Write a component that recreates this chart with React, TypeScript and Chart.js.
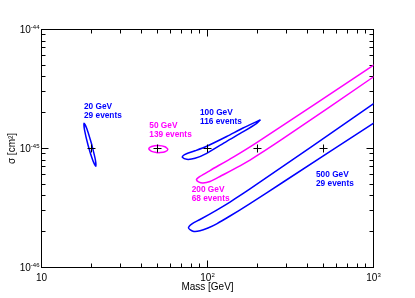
import React, { useEffect, useRef } from 'react';
import { Chart, registerables } from 'chart.js';

Chart.register(...registerables);

// ---- axis ticks ----
const X_TICKS = [10, 20, 30, 40, 50, 60, 70, 80, 90, 100, 200, 300, 400, 500, 600, 700, 800, 900, 1000];
const X_MAJOR = [10, 100, 1000];
const X_LABEL_BASE = ['10', '10', '10'];
const X_LABEL_EXP = ['', '2', '3'];
const Y_TICKS = [
  1e-46, 2e-46, 3e-46, 4e-46, 5e-46, 6e-46, 7e-46, 8e-46, 9e-46,
  1e-45, 2e-45, 3e-45, 4e-45, 5e-45, 6e-45, 7e-45, 8e-45, 9e-45, 1e-44,
];
const Y_MAJOR = [1e-46, 1e-45, 1e-44];
const Y_LABEL_BASE = ['10', '10', '10'];
const Y_LABEL_EXP = ['-46', '-45', '-44'];

// ---- benchmark points ----
const CROSS_MASS = [20, 50, 100, 200, 500];
const CROSS_SIGMA = [1e-45, 1e-45, 1e-45, 1e-45, 1e-45];

// ---- contours (mass GeV, sigma cm^2) ----
const C20_MASS = [20.06, 18.81, 18.05, 18.16, 19.08, 20.36, 21.23, 21.10, 20.06];
const C20_SIGMA = [1.085e-45, 1.451e-45, 1.628e-45, 1.431e-45, 1.064e-45, 7.95e-46, 7.09e-46, 8.07e-46, 1.085e-45];

const C50_MASS = [50.53, 46.05, 44.30, 46.05, 50.53, 55.46, 57.66, 55.46, 50.53];
const C50_SIGMA = [9.20e-46, 9.45e-46, 9.96e-46, 1.040e-45, 1.061e-45, 1.034e-45, 9.81e-46, 9.40e-46, 9.20e-46];

const C100_MASS = [208.6, 163.6, 130.5, 98.89, 84.09, 74.73, 71.49, 70.50, 74.94, 84.09, 98.89, 130.5, 164.3, 197.9, 208.6];
const C100_SIGMA = [1.743e-45, 1.487e-45, 1.261e-45, 1.044e-45, 9.56e-46, 9.03e-46, 8.73e-46, 8.43e-46, 8.11e-46, 8.27e-46, 9.11e-46, 1.149e-45, 1.384e-45, 1.628e-45, 1.743e-45];

const C200_MASS = [1347.5, 1347.5, 997.2, 197.9, 143.0, 103.5, 90.12, 85.86, 88.27, 93.95, 103.5, 118.9, 180.3, 286.2, 997.2, 1347.5];
const C200_SIGMA = [5.332e-45, 6.571e-45, 4.983e-45, 1.123e-45, 8.48e-46, 6.53e-46, 5.82e-46, 5.49e-46, 5.25e-46, 5.13e-46, 5.28e-46, 5.82e-46, 8.00e-46, 1.214e-45, 3.989e-45, 5.332e-45];

const C500_MASS = [1347.5, 1347.5, 997.2, 180.3, 136.6, 113.6, 90.12, 80.65, 76.83, 81.78, 90.12, 100.7, 113.6, 136.6, 180.3, 286.2, 997.2, 1347.5];
const C500_SIGMA = [2.127e-45, 3.162e-45, 2.366e-45, 4.57e-46, 3.55e-46, 3.04e-46, 2.53e-46, 2.329e-46, 2.148e-46, 2.018e-46, 2.034e-46, 2.148e-46, 2.329e-46, 2.708e-46, 3.449e-46, 5.23e-46, 1.628e-45, 2.127e-45];

// ---- text annotations ----
const LABEL_LINES = [
  ['20 GeV', '29 events'],
  ['50 GeV', '139 events'],
  ['100 GeV', '116 events'],
  ['200 GeV', '68 events'],
  ['500 GeV', '29 events'],
];

const BLUE = '#0000ff';
const MAGENTA = '#ff00ff';
const FONT = '"Liberation Sans", Arial, Helvetica, sans-serif';

// annotation anchors (data coordinates) and colours
const LABEL_ANCHORS = [
  { mass: 18.03, sigma: 2.127e-45, color: BLUE },
  { mass: 44.61, sigma: 1.501e-45, color: MAGENTA },
  { mass: 90.1, sigma: 1.912e-45, color: BLUE },
  { mass: 80.3, sigma: 4.31e-46, color: MAGENTA },
  { mass: 450.4, sigma: 5.79e-46, color: BLUE },
];

const toPoints = (xs: number[], ys: number[]) => xs.map((x, i) => ({ x, y: ys[i] }));

const textPlugin = {
  id: 'contourLabels',
  afterDatasetsDraw(chart: any) {
    const { ctx } = chart;
    const xs = chart.scales.x;
    const ys = chart.scales.y;
    ctx.save();
    ctx.font = `bold 8.3px ${FONT}`;
    ctx.textAlign = 'left';
    ctx.textBaseline = 'alphabetic';
    LABEL_ANCHORS.forEach((a, i) => {
      const px = xs.getPixelForValue(a.mass);
      const py = ys.getPixelForValue(a.sigma);
      ctx.fillStyle = a.color;
      LABEL_LINES[i].forEach((line, j) => ctx.fillText(line, px, py + j * 9));
    });
    ctx.restore();
  },
};

// power-of-ten tick labels with superscript exponents, placed by the scales
const BASE_FONT = `10px ${FONT}`;
const EXP_FONT = `6px ${FONT}`;
const tickLabelPlugin = {
  id: 'powerLabels',
  afterDraw(chart: any) {
    const { ctx, chartArea } = chart;
    const xs = chart.scales.x;
    const ys = chart.scales.y;
    ctx.save();
    ctx.fillStyle = '#000';
    ctx.textBaseline = 'alphabetic';
    ctx.textAlign = 'left';
    X_MAJOR.forEach((v, i) => {
      const px = xs.getPixelForValue(v);
      ctx.font = BASE_FONT;
      const wb = ctx.measureText(X_LABEL_BASE[i]).width;
      ctx.font = EXP_FONT;
      const we = X_LABEL_EXP[i] ? ctx.measureText(X_LABEL_EXP[i]).width : 0;
      const start = px - (wb + we) / 2;
      const base = chartArea.bottom + 13.5;
      ctx.font = BASE_FONT;
      ctx.fillText(X_LABEL_BASE[i], start, base);
      if (X_LABEL_EXP[i]) {
        ctx.font = EXP_FONT;
        ctx.fillText(X_LABEL_EXP[i], start + wb, base - 4.5);
      }
    });
    Y_MAJOR.forEach((v, i) => {
      const py = ys.getPixelForValue(v);
      const right = chartArea.left - 2;
      ctx.font = EXP_FONT;
      const we = ctx.measureText(Y_LABEL_EXP[i]).width;
      ctx.font = BASE_FONT;
      const wb = ctx.measureText(Y_LABEL_BASE[i]).width;
      const base = py + 3.7;
      ctx.fillText(Y_LABEL_BASE[i], right - we - wb, base);
      ctx.font = EXP_FONT;
      ctx.fillText(Y_LABEL_EXP[i], right - we, base - 4.5);
    });
    ctx.restore();
  },
};

const contour = (xs: number[], ys: number[], color: string) => ({
  data: toPoints(xs, ys),
  showLine: true,
  borderColor: color,
  borderWidth: 1.5,
  pointRadius: 0,
  pointHoverRadius: 0,
  tension: 0.25,
  capBezierPoints: false,
  fill: false,
  xAxisID: 'x',
  yAxisID: 'y',
});

const zeroH = (s: any) => { s.height = 0; };
const zeroW = (s: any) => { s.width = 0; };
const setTicks = (ticks: number[]) => (s: any) => { s.ticks = ticks.map((v) => ({ value: v })); };

const logX = (extra: any) => ({
  type: 'logarithmic',
  axis: 'x',
  min: 10,
  max: 1000,
  afterBuildTicks: setTicks(X_TICKS),
  ticks: { display: false, autoSkip: false },
  grid: { drawOnChartArea: false, drawTicks: true, tickLength: -4, tickColor: '#000', tickWidth: 1 },
  border: { display: true, color: '#000', width: 1 },
  ...extra,
});
const logY = (extra: any) => ({
  type: 'logarithmic',
  axis: 'y',
  min: 1e-46,
  max: 1e-44,
  afterBuildTicks: setTicks(Y_TICKS),
  ticks: { display: false, autoSkip: false },
  grid: { drawOnChartArea: false, drawTicks: true, tickLength: -4, tickColor: '#000', tickWidth: 1 },
  border: { display: true, color: '#000', width: 1 },
  ...extra,
});

export default function App() {
  const ref = useRef<HTMLCanvasElement>(null);
  useEffect(() => {
    if (!ref.current) return;
    Chart.defaults.font.family = FONT;
    const majorGrid = { drawOnChartArea: false, drawTicks: true, tickLength: -7, tickColor: '#000', tickWidth: 1 };
    const chart = new Chart(ref.current, {
      type: 'scatter',
      data: {
        datasets: [
          {
            data: toPoints(CROSS_MASS, CROSS_SIGMA),
            showLine: false,
            pointStyle: 'cross',
            pointRadius: 4,
            pointHoverRadius: 4,
            pointBorderWidth: 1,
            borderWidth: 1,
            borderColor: '#000',
            pointBorderColor: '#000',
            xAxisID: 'x',
            yAxisID: 'y',
          } as any,
          contour(C20_MASS, C20_SIGMA, BLUE),
          contour(C50_MASS, C50_SIGMA, MAGENTA),
          contour(C100_MASS, C100_SIGMA, BLUE),
          contour(C200_MASS, C200_SIGMA, MAGENTA),
          contour(C500_MASS, C500_SIGMA, BLUE),
        ],
      },
      options: {
        responsive: false,
        animation: false,
        devicePixelRatio: 1,
        layout: { padding: { left: 0, right: 41.5, top: 29.5, bottom: 0 } },
        plugins: { legend: { display: false }, tooltip: { enabled: false } },
        events: [],
        scales: {
          x: logX({
            position: 'bottom',
            weight: 0,
            title: {
              display: true,
              text: 'Mass [GeV]',
              color: '#000',
              font: { size: 10, family: FONT },
              padding: { top: 0, bottom: 5 },
            },
            afterFit: (s: any) => { s.height = 30.5; },
          }),
          y: logY({
            position: 'left',
            weight: 0,
            title: {
              display: true,
              text: 'σ [cm²]',
              color: '#000',
              font: { size: 10, family: FONT },
              padding: { top: 6, bottom: 0 },
            },
            afterFit: (s: any) => { s.width = 41.5; },
          }),
          xTop: logX({ position: 'top', weight: -1, afterFit: zeroH }),
          yRight: logY({ position: 'right', weight: -1, afterFit: zeroW }),
          xMajor: logX({
            position: 'bottom', weight: -2, afterFit: zeroH,
            afterBuildTicks: setTicks(X_MAJOR), grid: majorGrid, border: { display: false },
          }),
          xMajorTop: logX({
            position: 'top', weight: -2, afterFit: zeroH,
            afterBuildTicks: setTicks(X_MAJOR), grid: majorGrid, border: { display: false },
          }),
          yMajor: logY({
            position: 'left', weight: -2, afterFit: zeroW,
            afterBuildTicks: setTicks(Y_MAJOR), grid: majorGrid, border: { display: false },
          }),
          yMajorRight: logY({
            position: 'right', weight: -2, afterFit: zeroW,
            afterBuildTicks: setTicks(Y_MAJOR), grid: majorGrid, border: { display: false },
          }),
        } as any,
      },
      plugins: [textPlugin, tickLabelPlugin],
    } as any);
    return () => chart.destroy();
  }, []);

  return (
    <div style={{ position: 'fixed', left: 0, top: 0, width: 415, height: 298, background: '#fff' }}>
      <canvas ref={ref} width={415} height={298} style={{ display: 'block', width: 415, height: 298 }} />
    </div>
  );
}
